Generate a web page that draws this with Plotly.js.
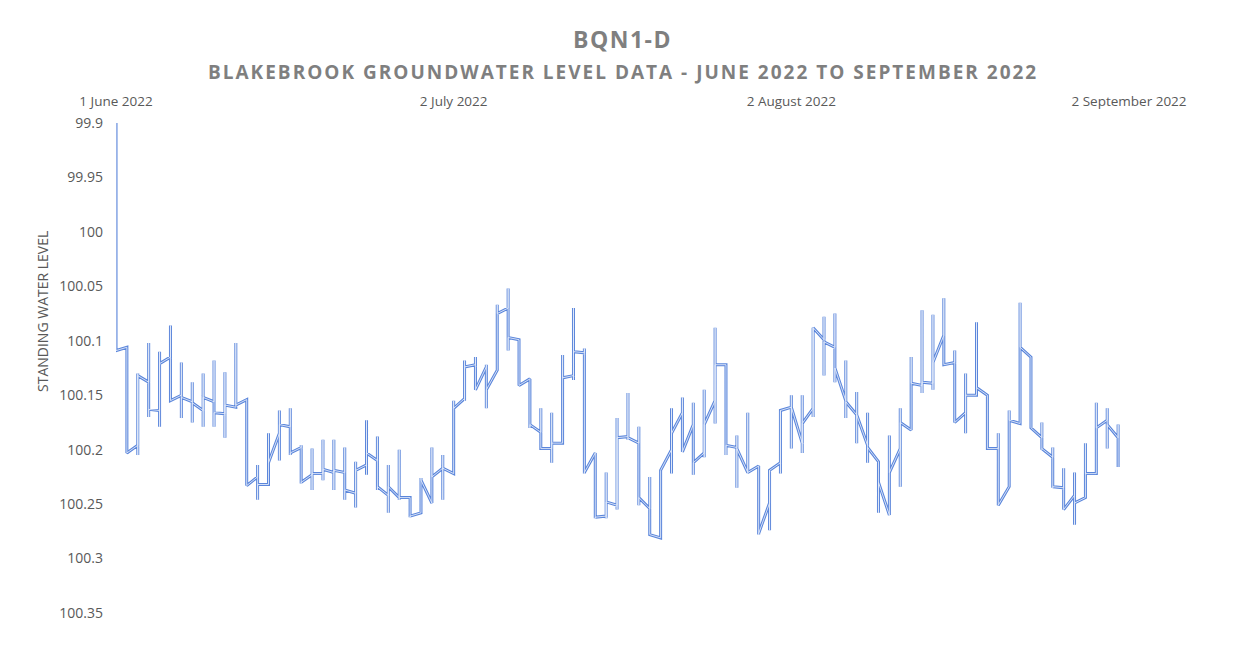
<!DOCTYPE html>
<html>
<head>
<meta charset="utf-8">
<script src="https://cdn.plot.ly/plotly-3.0.1.min.js"></script>
<style>
  html, body { margin: 0; padding: 0; background: #ffffff; }
  #chart { width: 1242px; height: 645px; }
  .g-gtitle text { letter-spacing: 1.5px; }
  .annotation[data-index="0"] text { letter-spacing: 2px; }
</style>
</head>
<body>
<div id="chart"></div>
<script>
// ---- Data (one spike per day from 1 June 2022) ----
const startYear = 2022, startMonth = 5, startDay = 1; // 1 June 2022
const arriveLevel = [99.900,100.106,100.196,100.138,100.164,100.115,100.150,100.156,100.164,100.156,
  100.167,100.161,100.154,100.225,100.232,100.185,100.179,100.198,100.223,100.222,
  100.221,100.221,100.240,100.214,100.210,100.242,100.244,100.244,100.258,100.249,
  100.217,100.222,100.153,100.122,100.124,100.127,100.070,100.099,100.135,100.184,
  100.199,100.194,100.132,100.111,100.203,100.261,100.251,100.188,100.194,100.254,
  100.281,100.200,100.166,100.177,100.203,100.155,100.122,100.198,100.221,100.215,
  100.249,100.212,100.161,100.194,100.162,100.099,100.106,100.155,100.168,100.196,
  100.211,100.260,100.199,100.182,100.141,100.139,100.095,100.120,100.166,100.150,
  100.150,100.199,100.234,100.176,100.115,100.189,100.207,100.235,100.242,100.244,
  100.222,100.173,100.189];
const spikeTop = [99.900,100.106,100.130,100.102,100.110,100.086,100.120,100.138,100.130,100.118,
  100.129,100.102,100.154,100.214,100.185,100.164,100.162,100.196,100.199,100.191,
  100.191,100.198,100.211,100.173,100.188,100.214,100.200,100.244,100.226,100.198,
  100.205,100.155,100.118,100.115,100.122,100.067,100.052,100.099,100.135,100.162,
  100.166,100.113,100.070,100.107,100.203,100.221,100.171,100.148,100.179,100.225,
  100.219,100.162,100.152,100.157,100.145,100.088,100.122,100.187,100.166,100.215,
  100.219,100.164,100.150,100.150,100.088,100.078,100.075,100.118,100.147,100.166,
  100.211,100.187,100.162,100.115,100.072,100.076,100.061,100.109,100.130,100.083,
  100.150,100.185,100.164,100.065,100.115,100.175,100.198,100.217,100.221,100.194,
  100.157,100.162,100.177];
const spikeBottom = [100.109,100.203,100.205,100.170,100.179,100.155,100.171,100.175,100.179,100.179,
  100.189,100.161,100.233,100.246,100.232,100.210,100.205,100.231,100.237,100.228,
  100.237,100.246,100.253,100.223,100.237,100.258,100.246,100.262,100.258,100.249,
  100.246,100.222,100.155,100.145,100.162,100.127,100.109,100.141,100.180,100.199,
  100.212,100.194,100.136,100.222,100.263,100.263,100.255,100.191,100.251,100.278,
  100.281,100.222,100.202,100.223,100.207,100.176,100.205,100.235,100.221,100.278,
  100.274,100.222,100.199,100.203,100.170,100.132,100.138,100.171,100.194,100.212,
  100.258,100.260,100.234,100.182,100.148,100.145,100.122,100.175,100.185,100.150,
  100.199,100.251,100.234,100.176,100.180,100.200,100.235,100.255,100.269,100.244,
  100.222,100.199,100.216];
const departLevel = [100.109,100.203,100.132,100.163,100.121,100.155,100.152,100.157,100.152,100.166,
  100.159,100.159,100.233,100.232,100.212,100.177,100.203,100.230,100.222,100.218,
  100.219,100.237,100.219,100.203,100.234,100.234,100.244,100.261,100.228,100.225,
  100.217,100.162,100.124,100.145,100.145,100.075,100.097,100.141,100.177,100.199,
  100.194,100.134,100.110,100.221,100.262,100.248,100.189,100.189,100.244,100.278,
  100.219,100.185,100.202,100.212,100.177,100.122,100.196,100.199,100.221,100.277,
  100.219,100.164,100.161,100.176,100.088,100.101,100.125,100.156,100.168,100.198,
  100.230,100.221,100.175,100.139,100.138,100.120,100.122,100.175,100.150,100.143,
  100.199,100.251,100.173,100.106,100.180,100.199,100.234,100.255,100.249,100.222,
  100.180,100.177,100.216];

const tickDates = ['2022-06-01', '2022-07-02', '2022-08-02', '2022-09-02'];
const tickLabels = ['1 June 2022', '2 July 2022', '2 August 2022', '2 September 2022'];
const yTickValues = [99.9, 99.95, 100, 100.05, 100.1, 100.15, 100.2, 100.25, 100.3, 100.35];
const yTickLabels = ['99.9', '99.95', '100', '100.05', '100.1', '100.15', '100.2', '100.25', '100.3', '100.35'];

// ---- Build polyline ----
function dayString(i) {
  const d = new Date(Date.UTC(startYear, startMonth, startDay + i));
  return d.toISOString().slice(0, 10);
}
const xs = [], ys = [];
for (let i = 0; i < arriveLevel.length; i++) {
  const x = dayString(i);
  xs.push(x, x, x, x);
  ys.push(arriveLevel[i], spikeTop[i], spikeBottom[i], departLevel[i]);
}

const outer = {
  x: xs, y: ys, type: 'scatter', mode: 'lines',
  line: { color: '#5b86db', width: 3 },
  hoverinfo: 'skip', showlegend: false
};
const inner = {
  x: xs, y: ys, type: 'scatter', mode: 'lines',
  line: { color: '#e2eaf9', width: 0.9 },
  hoverinfo: 'skip', showlegend: false
};

const grey = '#595959';
const layout = {
  width: 1242, height: 645,
  paper_bgcolor: '#ffffff', plot_bgcolor: '#ffffff',
  margin: { l: 116, r: 113, t: 123, b: 32 },
  font: { family: 'Open Sans, sans-serif', color: grey, size: 13.5 },
  title: {
    text: '<b>BQN1-D</b>',
    font: { size: 23, color: '#7f7f7f', family: 'Open Sans, sans-serif' },
    x: 0.5, xref: 'paper', xanchor: 'center',
    y: 0.938, yref: 'container', yanchor: 'middle'
  },
  xaxis: {
    type: 'date',
    range: ['2022-06-01', '2022-09-02'],
    side: 'top',
    tickmode: 'array', tickvals: tickDates, ticktext: tickLabels,
    showgrid: false, zeroline: false, showline: false, ticks: '',
    ticklabelstandoff: 13,
    tickfont: { size: 13.5, color: grey },
    fixedrange: true
  },
  yaxis: {
    range: [100.35, 99.9],
    tickmode: 'array', tickvals: yTickValues, ticktext: yTickLabels,
    showgrid: false, zeroline: false, showline: false, ticks: '',
    ticklabelstandoff: 12,
    tickfont: { size: 14, color: grey },
    fixedrange: true
  },
  annotations: [{
    text: '<b>BLAKEBROOK GROUNDWATER LEVEL DATA - JUNE 2022 TO SEPTEMBER 2022</b>',
    xref: 'paper', yref: 'paper',
    x: 0.5, y: (613 - 72) / 490,
    xanchor: 'center', yanchor: 'middle',
    showarrow: false,
    font: { size: 19, color: '#7f7f7f', family: 'Open Sans, sans-serif' }
  }, {
    text: 'STANDING WATER LEVEL',
    textangle: -90,
    xref: 'paper', yref: 'paper',
    x: (42 - 116) / 1013, y: (613 - 312) / 490,
    xanchor: 'center', yanchor: 'middle',
    showarrow: false,
    font: { size: 14, color: grey, family: 'Open Sans, sans-serif' }
  }],
  hovermode: false
};

Plotly.newPlot('chart', [outer, inner], layout, { staticPlot: true, displayModeBar: false });
</script>
</body>
</html>
